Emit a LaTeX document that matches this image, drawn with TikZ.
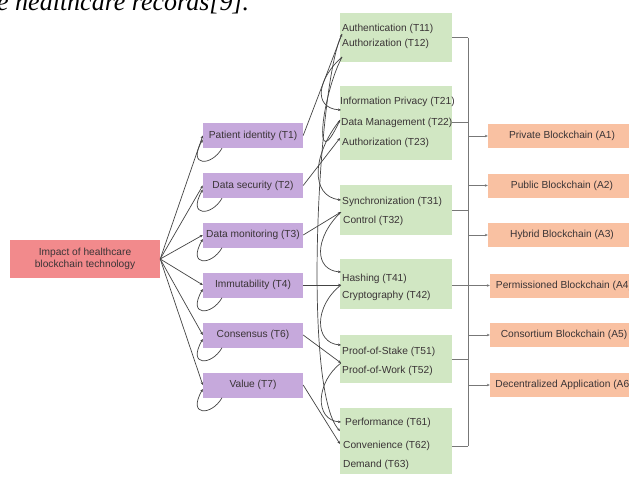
\documentclass[tikz,border=0pt]{standalone}
\usepackage{fontspec}
\setmainfont{Liberation Sans}
\newfontfamily\capfont{Liberation Serif}
\usetikzlibrary{arrows.meta}
\definecolor{redfill}{HTML}{F28A8C}
\definecolor{purpfill}{HTML}{C6A9DC}
\definecolor{greenfill}{HTML}{D1E7C3}
\definecolor{orangefill}{HTML}{F9C1A2}
\definecolor{txt}{HTML}{3A3436}
\definecolor{ln}{HTML}{444444}
\definecolor{busln}{HTML}{777777}
\tikzset{
  base/.style={inner sep=0pt, font=\fontsize{10.2}{12.5}\selectfont, text=txt},
  rbox/.style={base, fill=redfill, minimum width=150pt, minimum height=38pt, align=center},
  pbox/.style={base, fill=purpfill, minimum width=100pt, minimum height=25pt},
  gbox/.style={fill=greenfill, inner sep=0pt},
  gtext/.style={base, anchor=west},
  obox/.style={base, fill=orangefill, minimum width=148pt, minimum height=24pt},
  arr/.style={draw=ln, line width=0.7pt, -{Stealth[length=3pt,width=2.6pt]}},
  bus/.style={draw=busln, line width=0.9pt},
  busarr/.style={draw=busln, line width=0.9pt, -{Stealth[length=3pt,width=2.6pt]}},
}
\begin{document}
\begin{tikzpicture}[x=1pt,y=-1pt]
\useasboundingbox (0,0) rectangle (629,477);
\clip (0,0) rectangle (629,477);
\fill[white] (0,0) rectangle (629,477);

% caption fragment at the top (cut off in the reference too)
\node[anchor=base west, inner sep=0pt, font=\capfont\itshape\fontsize{26}{26}\selectfont, text=black] (cap) at (-3,10) {e healthcare records[9].};

% root
\node[rbox] (root) at (85,259) {Impact of healthcare\\blockchain technology};

% purple
\node[pbox] (p1) at (253,135.5) {Patient identity (T1)};
\node[pbox] (p2) at (253,185.5) {Data security (T2)};
\node[pbox] (p3) at (253,235) {Data monitoring (T3)};
\node[pbox] (p4) at (253,285) {Immutability (T4)};
\node[pbox] (p6) at (253,335) {Consensus (T6)};
\node[pbox] (p7) at (253,385) {Value (T7)};

% green boxes
\node[gbox, minimum width=112pt, minimum height=49pt] (g1) at (396,37.5) {};
\node[gbox, minimum width=112pt, minimum height=74pt] (g2) at (396,123) {};
\node[gbox, minimum width=112pt, minimum height=50pt] (g3) at (396,210) {};
\node[gbox, minimum width=112pt, minimum height=50pt] (g4) at (396,284) {};
\node[gbox, minimum width=112pt, minimum height=48pt] (g5) at (396,359) {};
\node[gbox, minimum width=112pt, minimum height=66pt] (g6) at (396,441) {};

\node[gtext] (t11) at (342,29) {Authentication (T11)};
\node[gtext] (t12) at (342,44) {Authorization (T12)};
\node[gtext] (t21) at (340,102) {Information Privacy (T21)};
\node[gtext] (t22) at (341,122.5) {Data Management (T22)};
\node[gtext] (t23) at (342,143) {Authorization (T23)};
\node[gtext] (t31) at (342,202) {Synchronization (T31)};
\node[gtext] (t32) at (343,221) {Control (T32)};
\node[gtext] (t41) at (342,279) {Hashing (T41)};
\node[gtext] (t42) at (342,296) {Cryptography (T42)};
\node[gtext] (t51) at (342,352) {Proof-of-Stake (T51)};
\node[gtext] (t52) at (342,371) {Proof-of-Work (T52)};
\node[gtext] (t61) at (345,423) {Performance (T61)};
\node[gtext] (t62) at (343,446) {Convenience (T62)};
\node[gtext] (t63) at (343,465) {Demand (T63)};

% orange
\node[obox] (a1) at (562,136) {Private Blockchain (A1)};
\node[obox] (a2) at (562,185.5) {Public Blockchain (A2)};
\node[obox] (a3) at (562,235) {Hybrid Blockchain (A3)};
\node[obox] (a4) at (564,285.5) {Permissioned Blockchain (A4)};
\node[obox] (a5) at (564,335) {Consortium Blockchain (A5)};
\node[obox] (a6) at (564,385) {Decentralized Application (A6)};

% entry points on green boxes
\coordinate (e11) at (342,34);
\coordinate (e12) at (342,57);
\coordinate (e21) at (341,110);
\coordinate (e22) at (340,120);
\coordinate (e23) at (340,138);
\coordinate (e31) at (341,200);
\coordinate (e32) at (341,212);
\coordinate (e41) at (341,272);
\coordinate (e42) at (341,285);
\coordinate (e51) at (341,345);
\coordinate (e52) at (341,363);
\coordinate (e61) at (341,422);
\coordinate (e61b) at (340,431);
\coordinate (e62) at (340,444);

% root fan
\foreach \p in {p1,p2,p3,p4,p6,p7}
  \draw[arr] (root.east) -- (\p.west);

% self loops under purple boxes
\foreach \p in {p1,p2,p3,p4,p6,p7}
  \draw[arr] ([xshift=-31pt]\p.south) .. controls +(-10,18) and +(-16,28) .. ([yshift=-4pt]\p.west);

% purple -> green
\draw[arr] (p1.east) -- (e11);
\draw[arr] (p2.east) -- (e23);
\draw[arr] (p3.east) -- (e32);
\draw[arr] (p4.east) -- (e42);
\draw[arr] (p6.east) -- (e52);
\draw[arr] (p7.east) -- (e62);

% green -> green curves
\draw[arr] (e12) .. controls (318,78) and (312,108) .. (e21);
\draw[arr] (e22) .. controls (312,155) and (310,196) .. (e31);
\draw[arr] (e32) .. controls (314,238) and (314,270) .. (e41);
\draw[arr] (e42) .. controls (314,306) and (314,343) .. (e51);
\draw[arr] (e52) .. controls (316,382) and (314,420) .. (e61);
\draw[arr] (e11) .. controls (318,80) and (302,390) .. (e61b);
\draw[arr] (e12) .. controls (322,95) and (312,180) .. (e22);

% bus
\coordinate (busx) at (468,0);
\draw[bus] (g1.east) -- (g1.east -| busx);
\draw[bus] (g2.east |- t22) -- (t22 -| busx);
\draw[bus] (g3.east) -- (g3.east -| busx);
\draw[bus] (g4.east |- a4) -- (a4 -| busx);
\draw[bus] (g5.east) -- (g5.east -| busx);
\draw[bus] (g6.east |- t62) -- (t62 -| busx);
\draw[bus] (g1.east -| busx) -- (t62 -| busx);
\foreach \a in {a1,a2,a3,a4,a5,a6}
  \draw[busarr] (\a.west -| busx) -- (\a.west);
\end{tikzpicture}
\end{document}
